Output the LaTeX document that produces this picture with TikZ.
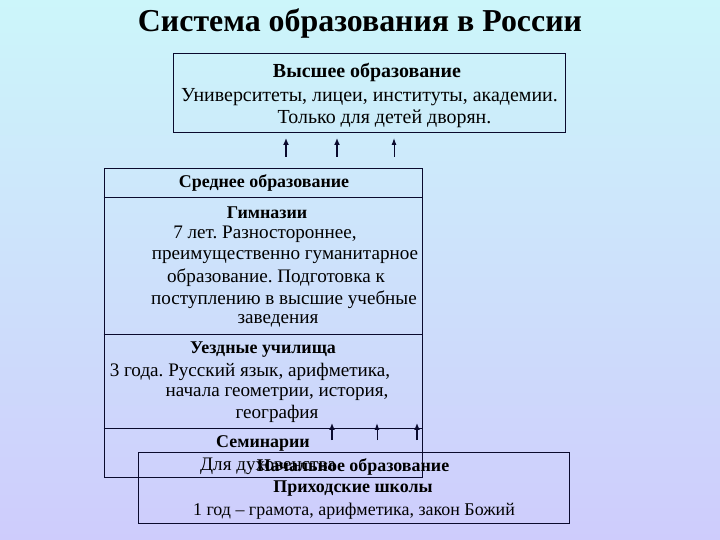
\documentclass[tikz,border=0pt]{standalone}
\usepackage{fontspec}
\setmainfont{Liberation Serif}
\usetikzlibrary{arrows.meta}
\definecolor{SlideTop}{RGB}{204,246,250}
\definecolor{SlideBottom}{RGB}{206,204,252}
\definecolor{FrameInk}{RGB}{10,10,45}
\frenchspacing

\tikzset{
  levelbox/.style={draw=FrameInk,line width=1pt,inner sep=0pt},
  levelline/.style={draw=FrameInk,line width=1pt},
  txt/.style={inner sep=0pt,font=\fontsize{18}{21}\selectfont},
  txtbold/.style={inner sep=0pt,font=\fontsize{18}{21}\selectfont\bfseries},
  bigtxt/.style={inner sep=0pt,font=\fontsize{20}{24}\selectfont},
  bigbold/.style={inner sep=0pt,font=\fontsize{20}{24}\selectfont\bfseries},
  midtxt/.style={inner sep=0pt,font=\fontsize{19.2}{23}\selectfont},
  bigup/.style={-{Latex[length=7pt,width=6pt]},line width=2.6pt,FrameInk},
  smallup/.style={-{Latex[length=7pt,width=5pt]},line width=1pt,FrameInk},
}

\begin{document}
\begin{tikzpicture}[x=1bp,y=-1bp]

% Slide: 1 unit = 1 px of a 720 x 540 slide, y pointing down
\shade[top color=SlideTop,bottom color=SlideBottom] (0,0) rectangle (720,540);
\useasboundingbox (0,0) rectangle (720,540);

% Title
\node[inner sep=0pt,font=\fontsize{32}{38}\selectfont\bfseries] (title) at (360,23) {Система образования в России};

% ---- HIGHER EDUCATION ----
\node[levelbox,minimum width=392bp,minimum height=78bp] (higher) at (369,93) {};
\node[bigbold] (higherhead) at (367,72) {Высшее образование};
\node[bigtxt] (higherl1) at (369.5,97) {Университеты, лицеи, институты, академии.};
\node[bigtxt] (higherl2) at (384.5,119) {Только для детей дворян.};

% Arrows into higher education
\coordinate (hA0) at (286,157); \coordinate (hA1) at (286,138);
\coordinate (hB0) at (337,157); \coordinate (hB1) at (337,138);
\coordinate (hC0) at (394,157); \coordinate (hC1) at (394,138);
\draw[bigup] (hA0) -- (hA1);
\draw[bigup] (hB0) -- (hB1);
\draw[smallup] (hC0) -- (hC1);

% ---- SECONDARY EDUCATION ----
\node[levelbox,minimum width=318bp,minimum height=308bp] (secondary) at (263,323) {};
\draw[levelline] (secondary.west |- 0,197) -- (secondary.east |- 0,197);
\draw[levelline] (secondary.west |- 0,334) -- (secondary.east |- 0,334);
\draw[levelline] (secondary.west |- 0,428) -- (secondary.east |- 0,428);

\node[txtbold] (secondaryhead) at (264,183) {Среднее образование};

% Gymnasiums
\node[txtbold] (gymhead) at (267,213) {Гимназии};
\node[midtxt] (gyml1) at (265,234) {7 лет. Разностороннее,};
\node[midtxt] (gyml2) at (285,257) {преимущественно гуманитарное};
\node[midtxt] (gyml3) at (276,278) {образование. Подготовка к};
\node[midtxt] (gyml4) at (284,300) {поступлению в высшие учебные};
\node[midtxt] (gyml5) at (278,321) {заведения};

% District schools
\node[txtbold] (districthead) at (263,350) {Уездные училища};
\node[midtxt] (districtl1) at (250,372) {3 года. Русский язык, арифметика,};
\node[midtxt] (districtl2) at (277,394) {начала геометрии, история,};
\node[midtxt] (districtl3) at (277,414) {география};

% Seminaries
\node[txtbold] (seminaryhead) at (263,443) {Семинарии};
\node[midtxt,anchor=west] (seminaryl1) at (200,466) {Для духовенства};

% Arrows from primary education
\coordinate (pA0) at (332,440); \coordinate (pA1) at (332,423);
\coordinate (pB0) at (377,440); \coordinate (pB1) at (377,423);
\coordinate (pC0) at (417,440); \coordinate (pC1) at (417,423);
\draw[bigup] (pA0) -- (pA1);
\draw[smallup] (pB0) -- (pB1);
\draw[bigup] (pC0) -- (pC1);

% ---- PRIMARY EDUCATION ----
\node[levelbox,minimum width=431bp,minimum height=71bp] (primary) at (353.5,487.5) {};
\node[txtbold] (primaryhead) at (353,467) {Начальное образование};
\node[txtbold] (parishhead) at (353,489) {Приходские школы};
\node[txt] (parishl1) at (354,511) {1 год -- грамота, арифметика, закон Божий};

\end{tikzpicture}
\end{document}
